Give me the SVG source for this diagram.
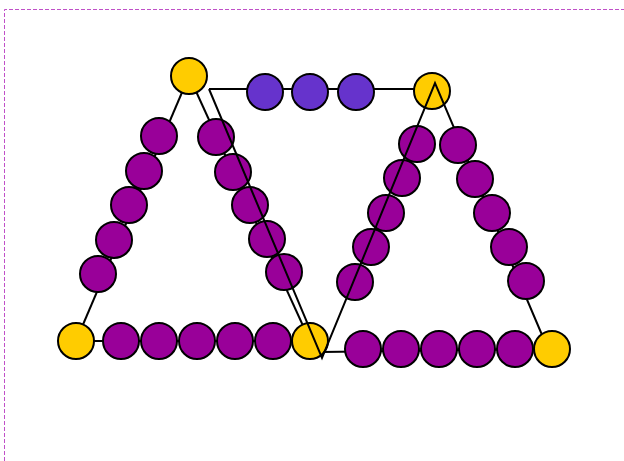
<svg xmlns="http://www.w3.org/2000/svg" width="624" height="461" viewBox="0 0 624 461">
<style>
.ln{stroke:#000;stroke-width:2;fill:none;stroke-linejoin:miter}
circle{stroke:#000;stroke-width:2}
.y{fill:#FFCC00}.p{fill:#990099}.b{fill:#6633CC}
</style>
<rect width="624" height="461" fill="#fff"/>
<path d="M4.5,461 V9.5 H624" fill="none" stroke="#c050c8" stroke-width="1" stroke-dasharray="4,2"/>
<g id="connectors-back">
<line class="ln" x1="189" y1="76" x2="76" y2="341"/>
<line class="ln" x1="189" y1="76" x2="310" y2="341"/>
<line class="ln" x1="76" y1="341" x2="310" y2="341"/>
<line class="ln" x1="209" y1="89" x2="432" y2="89"/>
<line class="ln" x1="322" y1="352" x2="552" y2="349"/>
</g>
<g id="n1"><circle class="y" cx="189" cy="76" r="18"/></g>
<g id="n2"><circle class="y" cx="76" cy="341" r="18"/></g>
<g id="n3"><circle class="y" cx="310" cy="341" r="18"/></g>
<g id="n4"><circle class="y" cx="432" cy="91" r="18"/></g>
<g id="b1"><circle class="b" cx="265" cy="92" r="18"/></g>
<g id="b2"><circle class="b" cx="310" cy="92" r="18"/></g>
<g id="b3"><circle class="b" cx="356" cy="92" r="18"/></g>
<g id="l1"><circle class="p" cx="159" cy="136" r="18"/></g>
<g id="l2"><circle class="p" cx="144" cy="171" r="18"/></g>
<g id="l3"><circle class="p" cx="129" cy="205" r="18"/></g>
<g id="l4"><circle class="p" cx="114" cy="240" r="18"/></g>
<g id="l5"><circle class="p" cx="98" cy="274" r="18"/></g>
<g id="r1"><circle class="p" cx="216" cy="137" r="18"/></g>
<g id="r2"><circle class="p" cx="233" cy="172" r="18"/></g>
<g id="r3"><circle class="p" cx="250" cy="205" r="18"/></g>
<g id="r4"><circle class="p" cx="267" cy="239" r="18"/></g>
<g id="r5"><circle class="p" cx="284" cy="272" r="18"/></g>
<g id="bl1"><circle class="p" cx="121" cy="341" r="18"/></g>
<g id="bl2"><circle class="p" cx="159" cy="341" r="18"/></g>
<g id="bl3"><circle class="p" cx="197" cy="341" r="18"/></g>
<g id="bl4"><circle class="p" cx="235" cy="341" r="18"/></g>
<g id="bl5"><circle class="p" cx="273" cy="341" r="18"/></g>
<g id="s1"><circle class="p" cx="417" cy="144" r="18"/></g>
<g id="s2"><circle class="p" cx="402" cy="178" r="18"/></g>
<g id="s3"><circle class="p" cx="386" cy="213" r="18"/></g>
<g id="s4"><circle class="p" cx="371" cy="247" r="18"/></g>
<g id="s5"><circle class="p" cx="355" cy="282" r="18"/></g>
<g id="connectors-front">
<polyline class="ln" points="209,89 322,358 435,83 548,349"/>
</g>
<g id="t1"><circle class="p" cx="458" cy="145" r="18"/></g>
<g id="t2"><circle class="p" cx="475" cy="179" r="18"/></g>
<g id="t3"><circle class="p" cx="492" cy="213" r="18"/></g>
<g id="t4"><circle class="p" cx="509" cy="247" r="18"/></g>
<g id="t5"><circle class="p" cx="526" cy="281" r="18"/></g>
<g id="br1"><circle class="p" cx="363" cy="349" r="18"/></g>
<g id="br2"><circle class="p" cx="401" cy="349" r="18"/></g>
<g id="br3"><circle class="p" cx="439" cy="349" r="18"/></g>
<g id="br4"><circle class="p" cx="477" cy="349" r="18"/></g>
<g id="br5"><circle class="p" cx="515" cy="349" r="18"/></g>
<g id="n5"><circle class="y" cx="552" cy="349" r="18"/></g>
</svg>
